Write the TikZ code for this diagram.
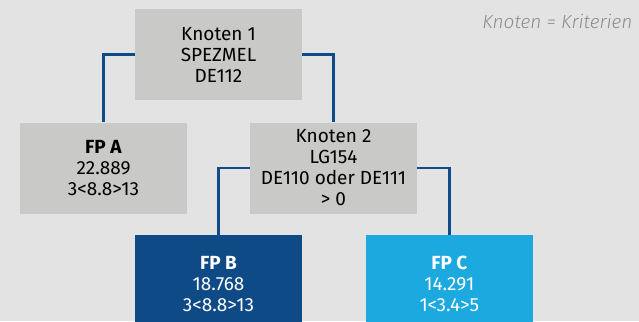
\documentclass[tikz,border=0pt]{standalone}
\usepackage{fontspec}
\setmainfont{Fira Sans}
\newfontfamily\notefont{Fira Sans Light}[ItalicFont={Fira Sans Light Italic}]
\usepackage{tikz}
\usetikzlibrary{calc}

\definecolor{bggrey}{HTML}{E3E3E3}
\definecolor{boxgrey}{HTML}{C9C9C7}
\definecolor{linkblue}{HTML}{0E4B88}
\definecolor{fpbblue}{HTML}{0E4A86}
\definecolor{fpcblue}{HTML}{1CA9E0}
\definecolor{notegrey}{HTML}{8C8C8C}

\begin{document}
\begin{tikzpicture}[x=1pt,y=1pt,
  box/.style={fill=boxgrey, minimum width=167pt, minimum height=91pt, inner sep=0pt,
    align=center, font=\fontsize{19}{21}\selectfont},
  leaf/.style={box, minimum height=98pt, text=white},
  link/.style={draw=linkblue, line width=2.4pt}]
\pgfmathsetmacro{\W}{639} % picture width
\pgfmathsetmacro{\H}{321} % picture height

% page and background
\useasboundingbox (0,0) rectangle (\W,-\H);
\fill[bggrey] (0,0) rectangle (\W,-\H);
\clip (0,0) rectangle (\W,-\H);

% inner nodes of the tree
\node[box] (k1) at (218.5,-54.5) {Knoten 1\\SPEZMEL\\DE112};
\node[box] (k2) at (333.5,-168) {Knoten 2\\LG154\\DE110 oder DE111\\> 0};

% leaves
\node[box] (fpa) at (103.5,-168) {\textbf{FP A}\\22.889\\3<8.8>13};
\node[leaf, fill=fpbblue] (fpb) at (218.5,-284) {\textbf{FP B}\\18.768\\3<8.8>13};
\node[leaf, fill=fpcblue] (fpc) at (449.3,-284) {\textbf{FP C}\\14.291\\1<3.4>5};

% branches
\draw[link] (k1.west) -| (fpa.north);
\draw[link] (k1.east) -| (k2.north);
\draw[link] (k2.west) -| (fpb.north);
\draw[link] (k2.east) -| (fpc.north);

% note
\node[anchor=east, text=notegrey, font=\fontsize{19}{21}\selectfont\notefont\itshape] (note) at (636,-21) {Knoten = Kriterien};

\end{tikzpicture}
\end{document}
